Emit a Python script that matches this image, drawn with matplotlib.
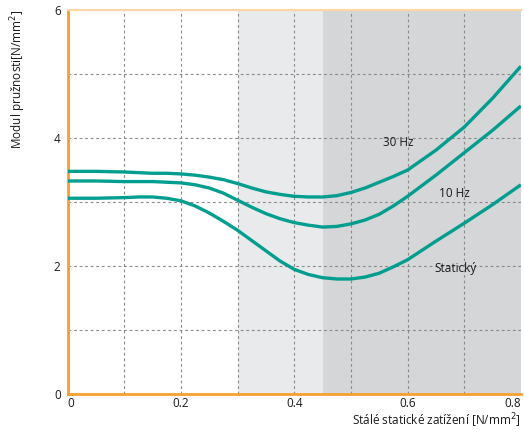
import matplotlib
matplotlib.use("Agg")
import matplotlib.pyplot as plt

# values
load = [0.0, 0.05, 0.1, 0.125, 0.15, 0.175, 0.2, 0.225, 0.25, 0.275,
        0.3, 0.325, 0.35, 0.375, 0.4, 0.425, 0.45, 0.475, 0.5, 0.525,
        0.55, 0.575, 0.6, 0.65, 0.7, 0.75, 0.8]
mod_30hz = [3.48, 3.48, 3.47, 3.46, 3.45, 3.45, 3.44, 3.42, 3.39, 3.35,
            3.29, 3.22, 3.16, 3.12, 3.09, 3.08, 3.08, 3.10, 3.15, 3.22,
            3.31, 3.40, 3.50, 3.81, 4.17, 4.62, 5.12]
mod_10hz = [3.33, 3.33, 3.32, 3.32, 3.32, 3.31, 3.30, 3.27, 3.22, 3.14,
            3.03, 2.92, 2.82, 2.74, 2.68, 2.64, 2.61, 2.62, 2.66, 2.72,
            2.81, 2.94, 3.09, 3.42, 3.77, 4.12, 4.50]
mod_static = [3.06, 3.06, 3.07, 3.08, 3.08, 3.06, 3.02, 2.94, 2.83, 2.70,
              2.56, 2.40, 2.24, 2.08, 1.95, 1.87, 1.82, 1.80, 1.80, 1.83,
              1.89, 1.99, 2.10, 2.39, 2.67, 2.96, 3.27]

series = [("30 Hz", mod_30hz, 0.583, 3.93),
          ("10 Hz", mod_10hz, 0.683, 3.14),
          ("Statický", mod_static, 0.685, 1.96)]

x_ticks = [0, 0.2, 0.4, 0.6, 0.8]
x_ticklabels = ["0", "0.2", "0.4", "0.6", "0.8"]
y_ticks = [0, 2, 4, 6]

TEAL = "#009e8f"
ORANGE = "#f7a02d"

plt.rcParams['font.family'] = ['Open Sans', 'DejaVu Sans']

fig = plt.figure(figsize=(5.24, 4.30), dpi=100)
ax = fig.add_axes([0.129, 0.083, 0.865, 0.894])

# background zones
ax.axvspan(0.3, 0.45, color="#e9eaec", lw=0, zorder=0)
ax.axvspan(0.45, 0.8, color="#d5d6d8", lw=0, zorder=0)

# dashed grid
for gx in [0.1, 0.2, 0.3, 0.4, 0.5, 0.6, 0.7]:
    ax.axvline(gx, color="#8a8a8a", lw=0.8, ls=(0, (2.5, 2.5)), zorder=1)
for gy in [1, 2, 3, 4, 5]:
    ax.axhline(gy, color="#8a8a8a", lw=0.8, ls=(0, (2.5, 2.5)), zorder=1)

for name, vals, lx, ly in series:
    ax.plot(load, vals, color=TEAL, lw=2.4, solid_capstyle="butt",
            solid_joinstyle="round", zorder=3)
    ax.text(lx, ly, name, fontsize=8.5, ha="center", va="center", color="#1a1a1a", zorder=4)

ax.set_xlim(0, 0.8)
ax.set_ylim(0, 6)
ax.set_xticks(x_ticks)
ax.set_xticklabels(x_ticklabels)
ax.set_yticks(y_ticks)
ax.tick_params(length=0, labelsize=8.5, colors="#1a1a1a")
ax.tick_params(axis="x", pad=2)
ax.tick_params(axis="y", pad=5)
xl = ax.get_xticklabels()
xl[0].set_ha("left")
xl[-1].set_ha("right")

for s in ["left", "bottom"]:
    ax.spines[s].set_color(ORANGE)
    ax.spines[s].set_linewidth(2)
ax.spines["top"].set_color("#fcd7a4")
ax.spines["top"].set_linewidth(1.5)
ax.spines["right"].set_visible(False)

fig.text(0.994, 0.0, "Stálé statické zatížení [N/mm$^2$]", ha="right", va="bottom",
         fontsize=8.5, color="#1a1a1a")
fig.text(0.035, 0.977, "Modul pružnosti[N/mm$^2$]", ha="center", va="top",
         rotation=90, fontsize=8.5, color="#1a1a1a")

fig.savefig("out.png", dpi=100)
